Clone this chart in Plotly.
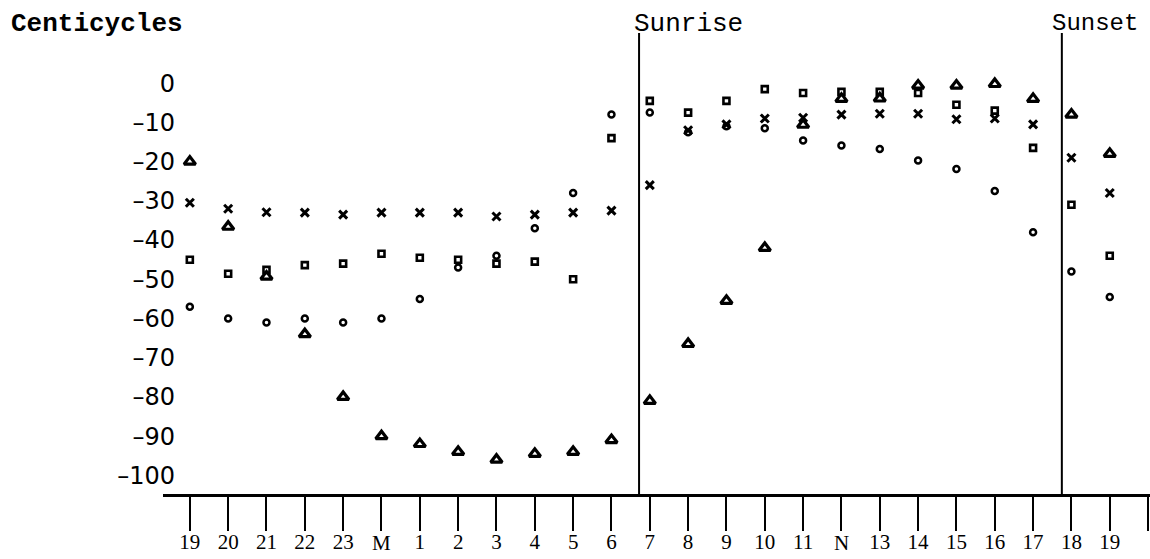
import plotly.graph_objects as go

# Hour labels along the bottom, starting and ending at 19h (M = midnight, N = noon)
hour_labels = ["19", "20", "21", "22", "23", "M", "1", "2", "3", "4", "5", "6",
               "7", "8", "9", "10", "11", "N", "13", "14", "15", "16", "17", "18", "19"]

# Phase readings in centicycles, one per hour, four series
tri_vals = [-20, -36.6, -49.3, -64, -80, -90, -92, -94, -96, -94.5, -94, -91,
            -81, -66.5, -55.5, -42, -10.6, -4, -3.9, -0.6, -0.6, -0.2, -4, -8, -18]
x_vals = [-30.5, -32, -32.9, -33, -33.5, -33, -33, -33, -34, -33.5, -33, -32.5,
          -26, -12, -10.5, -9, -8.8, -8, -7.8, -7.8, -9.2, -9, -10.5, -19, -28]
sq_vals = [-45, -48.6, -47.6, -46.4, -46, -43.5, -44.5, -45, -46, -45.5, -50, -14,
           -4.5, -7.5, -4.5, -1.5, -2.5, -2.2, -2.2, -2.5, -5.5, -7, -16.5, -31, -44]
circ_vals = [-57, -60, -61, -60, -61, -60, -55, -47, -44, -37, -28, -8,
             -7.5, -12.5, -11, -11.5, -14.6, -15.9, -16.8, -19.7, -21.9, -27.5, -38, -48, -54.5]

y_ticks = [0, -10, -20, -30, -40, -50, -60, -70, -80, -90, -100]

sunrise_hour = 6.72
sunset_hour = 17.75
start_hour = 19


def hour_index(h):
    return (h - start_hour) % 24


idx = list(range(len(hour_labels)))
tick_idx = idx + [len(hour_labels)]
tick_text = [("" if lab in ("M", "N") else lab) for lab in hour_labels] + [""]

fig = go.Figure()

series = [
    (tri_vals, "triangle-up-open", 10, 3.2),
    (x_vals, "x-thin-open", 8, 3.0),
    (sq_vals, "square-open", 6, 2.6),
    (circ_vals, "circle-open", 6, 2.5),
]
for vals, sym, size, lw in series:
    fig.add_trace(go.Scatter(
        x=idx, y=vals, mode="markers",
        marker=dict(symbol=sym, size=size, color="black",
                    line=dict(color="black", width=lw)),
        showlegend=False, hoverinfo="skip",
    ))

# Sunrise / sunset marker lines
for h in (sunrise_hour, sunset_hour):
    xi = hour_index(h)
    fig.add_shape(type="line", xref="x", yref="paper", x0=xi, x1=xi, y0=0, y1=1,
                  line=dict(color="black", width=2))

annotations = [
    dict(text="<b>Centicycles</b>", xref="paper", yref="paper", x=-0.156, y=1.02,
         xanchor="left", yanchor="middle", showarrow=False,
         font=dict(family="Liberation Mono", size=26, color="black")),
    dict(text="Sunrise", xref="x", yref="paper", x=hour_index(sunrise_hour), y=1.02,
         xanchor="left", yanchor="middle", showarrow=False, xshift=-7,
         font=dict(family="Liberation Mono", size=26, color="black")),
    dict(text="Sunset", xref="x", yref="paper", x=hour_index(sunset_hour), y=1.02,
         xanchor="left", yanchor="middle", showarrow=False, xshift=-12,
         font=dict(family="Liberation Mono", size=24, color="black")),
]
# Midnight and noon letters sit a little lower than the digit labels
for lab in ("M", "N"):
    annotations.append(dict(
        text=lab, xref="x", yref="paper", x=hour_labels.index(lab), y=-0.106,
        xanchor="center", yanchor="middle", showarrow=False,
        font=dict(family="Liberation Serif", size=21, color="black")))

fig.update_layout(
    width=1150, height=559,
    margin=dict(l=163, r=0, t=33, b=65),
    paper_bgcolor="white", plot_bgcolor="white",
    annotations=annotations,
    xaxis=dict(
        range=[-0.7, 25.05], tickmode="array", tickvals=tick_idx, ticktext=tick_text,
        ticks="outside", ticklen=34, tickwidth=2, tickcolor="black",
        showline=True, linewidth=2.5, linecolor="black",
        showgrid=False, zeroline=False, ticklabelstandoff=-7,
        tickfont=dict(family="Liberation Serif", size=21, color="black"),
    ),
    yaxis=dict(
        range=[-104.75, 12.8], tickmode="array", tickvals=y_ticks,
        ticktext=[("0" if v == 0 else "\u2013" + str(abs(v))) for v in y_ticks],
        ticks="", showline=False, showgrid=False, zeroline=False,
        ticklabelstandoff=-13,
        tickfont=dict(family="DejaVu Sans", size=24, color="black"),
    ),
)

fig.write_html("out.html")
